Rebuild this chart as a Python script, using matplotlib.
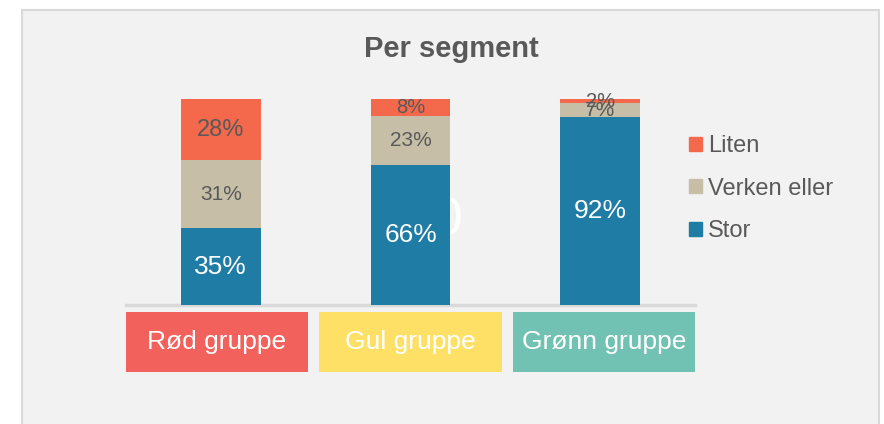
import numpy as np
import matplotlib.pyplot as plt
from matplotlib.patches import Rectangle, Patch
from matplotlib.transforms import blended_transform_factory

plt.rcParams['font.family'] = ['Liberation Sans', 'DejaVu Sans']

# svar per segment (prosent)
groups = ['Rød gruppe', 'Gul gruppe', 'Grønn gruppe']
stor = np.array([35, 66, 92])
verken = np.array([31, 23, 7])
liten = np.array([28, 8, 2])

# navn, verdier, farge, tekstfarge, skriftstørrelse per etikett
series = [('Stor', stor, '#1f7ca4', 'white', [19, 19, 19]),
          ('Verken eller', verken, '#c6bea7', '#595959', [15, 15, 15]),
          ('Liten', liten, '#f4694b', '#595959', [17, 14.5, 14.5])]
group_colors = ['#f2615c', '#fee066', '#72c2b3']
text_grey = '#595959'

W, H = 884, 424


def px(x0, y0, w, h):
    # pikselboks (fra toppen) -> figurkoordinater
    return [x0 / W, 1 - (y0 + h) / H, w / W, h / H]


fig = plt.figure(figsize=(W / 100, H / 100), dpi=100)
fig.patch.set_facecolor('white')

# grå bakgrunn med ramme
frame = Rectangle((22 / W, -0.1), (879 - 22) / W, 1 - 10 / H + 0.1,
                  transform=fig.transFigure, facecolor='#f2f2f2',
                  edgecolor='#d9d9d9', lw=1.5, zorder=-10)
fig.patches.append(frame)

ax = fig.add_axes(px(126, 99, 569, 206))
ax.set_facecolor('none')
ax.set_zorder(1)

x = np.arange(len(groups))
totals = stor + verken + liten
bottom = np.zeros(len(groups))
for name, vals, col, tcol, sizes in series:
    share = vals / totals
    ax.bar(x, share, 0.42, bottom=bottom, color=col, label=name, zorder=3)
    for xi, b, s, v, fs in zip(x, bottom, share, vals, sizes):
        ax.text(xi, b + s / 2, f'{v}%', ha='center', va='center',
                fontsize=fs, color=tcol, zorder=4)
    bottom += share

# hvit tekst som ligger bak den gule stolpen
ax.text((448 - 126) / (569 / 3) - 0.5, 0.41, '0', ha='center', va='center',
        fontsize=37, color='white', zorder=2)

ax.set_xlim(-0.5, 2.5)
ax.set_ylim(0, 1)
ax.set_xticks([])
ax.set_yticks([])
for side in ['top', 'left', 'right']:
    ax.spines[side].set_visible(False)
ax.spines['bottom'].set_color('#d9d9d9')
ax.spines['bottom'].set_linewidth(2.5)

# fargede gruppeetiketter under aksen
trans = blended_transform_factory(ax.transData, ax.transAxes)
for i, (g, c) in enumerate(zip(groups, group_colors)):
    cx = i * 1.02 - 0.02
    ax.add_patch(Rectangle((cx - 0.48, -0.325), 0.96, 0.29, transform=trans,
                           facecolor=c, edgecolor='none', clip_on=False))
    ax.text(cx, -0.18, g, transform=trans, ha='center', va='center',
            fontsize=19, color='white')

fig.text(451 / W, 1 - 49 / H, 'Per segment', ha='center', va='center',
         fontsize=21, weight='bold', color=text_grey)

handles = [Patch(color=c) for _, _, c, _, _ in series[::-1]]
labels = [s[0] for s in series[::-1]]
fig.legend(handles, labels, loc='upper left',
           bbox_to_anchor=(689 / W, 1 - 135 / H), frameon=False, fontsize=17,
           handlelength=0.55, handleheight=0.55, handletextpad=0.25,
           labelspacing=0.87, borderpad=0, borderaxespad=0,
           labelcolor=text_grey)

fig.savefig('out.png', dpi=100)
